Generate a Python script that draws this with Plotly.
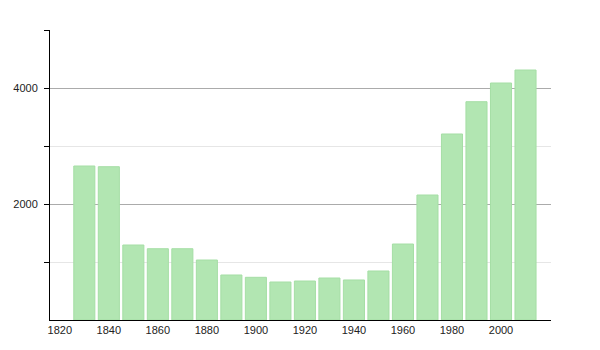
import plotly.graph_objects as go

years = [1830, 1840, 1850, 1860, 1870, 1880, 1890, 1900, 1910, 1920,
         1930, 1940, 1950, 1960, 1970, 1980, 1990, 2000, 2010]
population = [2655, 2643, 1293, 1229, 1229, 1034, 776, 736, 655, 672,
              724, 690, 845, 1310, 2155, 3207, 3764, 4086, 4310]
x_ticks = [1820, 1840, 1860, 1880, 1900, 1920, 1940, 1960, 1980, 2000]

fig = go.Figure()
fig.add_trace(go.Bar(
    x=years, y=population, width=8.6,
    marker=dict(color="rgb(178,230,178)", line=dict(color="rgb(165,222,165)", width=1)),
))

fig.update_layout(
    width=600, height=350,
    margin=dict(l=50, r=49, t=30, b=30),
    plot_bgcolor="white", paper_bgcolor="white",
    showlegend=False,
    font=dict(family="Liberation Sans, Arial, sans-serif", size=11, color="#222"),
    xaxis=dict(
        range=[1816, 2020.4], tickvals=x_ticks, ticktext=[str(v) for v in x_ticks],
        showgrid=False, zeroline=False, showline=True, linecolor="black", linewidth=1,
        ticks="", ticklen=0,
    ),
    yaxis=dict(
        range=[0, 5000], tickvals=[2000, 4000], showgrid=True, gridcolor="#ababab",
        gridwidth=1, zeroline=False, showline=True, linecolor="black", linewidth=1,
        ticks="outside", ticklen=5, tickcolor="black", ticklabelstandoff=4,
        minor=dict(tickvals=[1000, 3000, 5000], showgrid=True, gridcolor="#e6e6e6",
                   ticks="outside", ticklen=5, tickcolor="black"),
    ),
)

fig.write_html("out.html")
